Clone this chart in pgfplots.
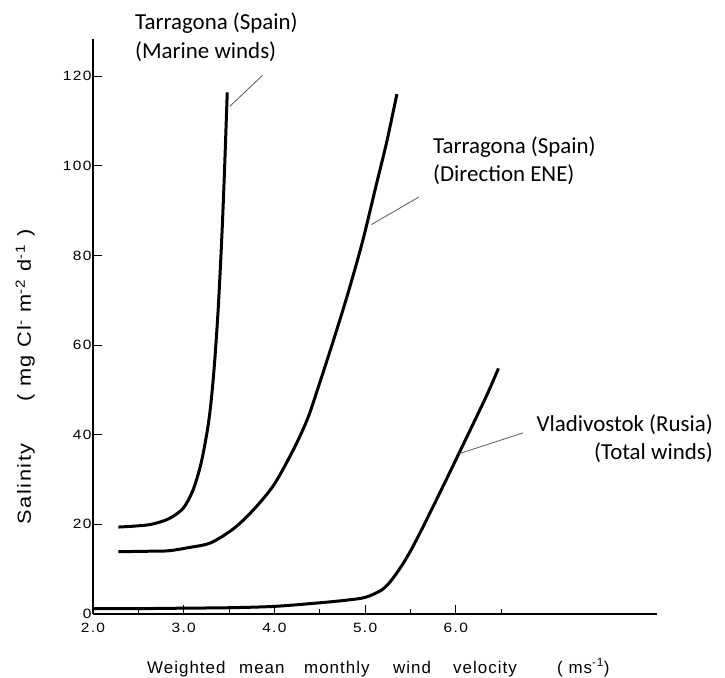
\documentclass[border=0pt]{standalone}
\usepackage{pgfplots}
\pgfplotsset{compat=1.18}
\usepackage{fontspec}
\setmainfont{Carlito}
\newfontfamily\axfont[FakeStretch=1.15, LetterSpace=10]{Liberation Sans}
\newfontfamily\labfont[LetterSpace=6]{Liberation Sans}
\newfontfamily\ylabfont[FakeStretch=1.15, LetterSpace=8]{Liberation Sans}
\begin{document}
\begin{tikzpicture}[x=1bp,y=1bp]
\useasboundingbox (-93,-64) rectangle (632,614);
\begin{axis}[
  at={(0,0)}, anchor=south west,
  scale only axis, width=564bp, height=575bp,
  xmin=2, xmax=8.218, ymin=0, ymax=128.3,
  axis x line*=bottom, axis y line*=left,
  axis line style={line width=1.3bp, black, -},
  xtick={2,3,4,5,6}, xticklabels={2.0,3.0,4.0,5.0,6.0},
  minor xtick={2.5,3.5,4.5,5.5,6.5},
  ytick={0,20,40,60,80,100,120}, yticklabels={0,20,40,60,80,100,120},
  tick align=inside, major tick length=9bp, minor tick length=5bp,
  tick style={line width=1bp, black},
  tick label style={font=\fontsize{13.5}{13.5}\axfont},
  xticklabel style={yshift=-6bp},
  yticklabel style={xshift=2bp},
  clip=false,
]
% Tarragona (Marine winds)
\addplot[black, line width=3bp, smooth] coordinates {
(2.28,19.4) (2.45,19.6) (2.64,20.0) (2.83,21.2) (2.99,23.5) (3.10,27.5)
(3.19,33.5) (3.26,40.9) (3.30,47) (3.34,56) (3.38,68) (3.42,84)
(3.45,99) (3.48,116.4)};
% Tarragona (Direction ENE)
\addplot[black, line width=3bp, smooth] coordinates {
(2.28,13.9) (2.6,14.0) (2.83,14.1) (3.05,14.8) (3.30,15.9) (3.56,19.2)
(3.78,23.5) (4.00,29) (4.22,37.1) (4.37,43.8) (4.49,51) (4.65,61)
(4.81,71.5) (4.97,83) (5.12,95.5) (5.24,105.5) (5.35,116)};
% Vladivostok (Total winds)
\addplot[black, line width=3bp, smooth] coordinates {
(2.0,1.2) (2.5,1.2) (3.0,1.3) (3.5,1.4) (4.0,1.7) (4.5,2.5) (4.8,3.1)
(5.0,3.7) (5.17,5.2) (5.26,6.8) (5.34,8.9) (5.42,11.3) (5.51,14.4)
(5.62,18.7) (5.75,24) (5.9,30.2) (6.05,36.5) (6.2,42.8) (6.35,49.2)
(6.47,54.8)};
% leader lines
\draw[black!65, line width=0.8bp] (axis cs:3.51,113.3) -- (axis cs:3.87,120.2);
\draw[black!65, line width=0.8bp] (axis cs:5.07,86.9) -- (axis cs:5.59,93);
\draw[black!65, line width=0.8bp] (axis cs:6.04,35.8) -- (axis cs:6.74,40.4);
\end{axis}
% annotations
\begin{scope}[every node/.style={inner sep=0pt, font=\fontsize{23}{28}\selectfont}]
\node[anchor=base west] at (42,584) {Tarragona (Spain)};
\node[anchor=base west] at (42,555) {(Marine winds)};
\node[anchor=base west] at (340,460) {Tarragona (Spain)};
\node[anchor=base west] at (340,432) {(Direction ENE)};
\node[anchor=base east] at (620,182) {Vladivostok (Rusia)};
\node[anchor=base east] at (620,154) {(Total winds)};
\end{scope}
% x label
\begin{scope}[every node/.style={inner sep=0pt, anchor=base west, font=\fontsize{17}{17}\labfont}]
\node at (54,-59) {Weighted};
\node at (146,-59) {mean};
\node at (211,-59) {monthly};
\node at (300,-59) {wind};
\node at (360,-59) {velocity};
\node at (464,-59) {( ms\textsuperscript{-1})};
\end{scope}
% y label
\begin{scope}[every node/.style={inner sep=0pt, anchor=base west, rotate=90, font=\fontsize{19}{19}\ylabfont}]
\node at (-62,89.6) {Salinity};
\node at (-62,212) {( mg Cl\textsuperscript{-} m\textsuperscript{-2} d\textsuperscript{-1} )};
\end{scope}
\end{tikzpicture}
\end{document}
